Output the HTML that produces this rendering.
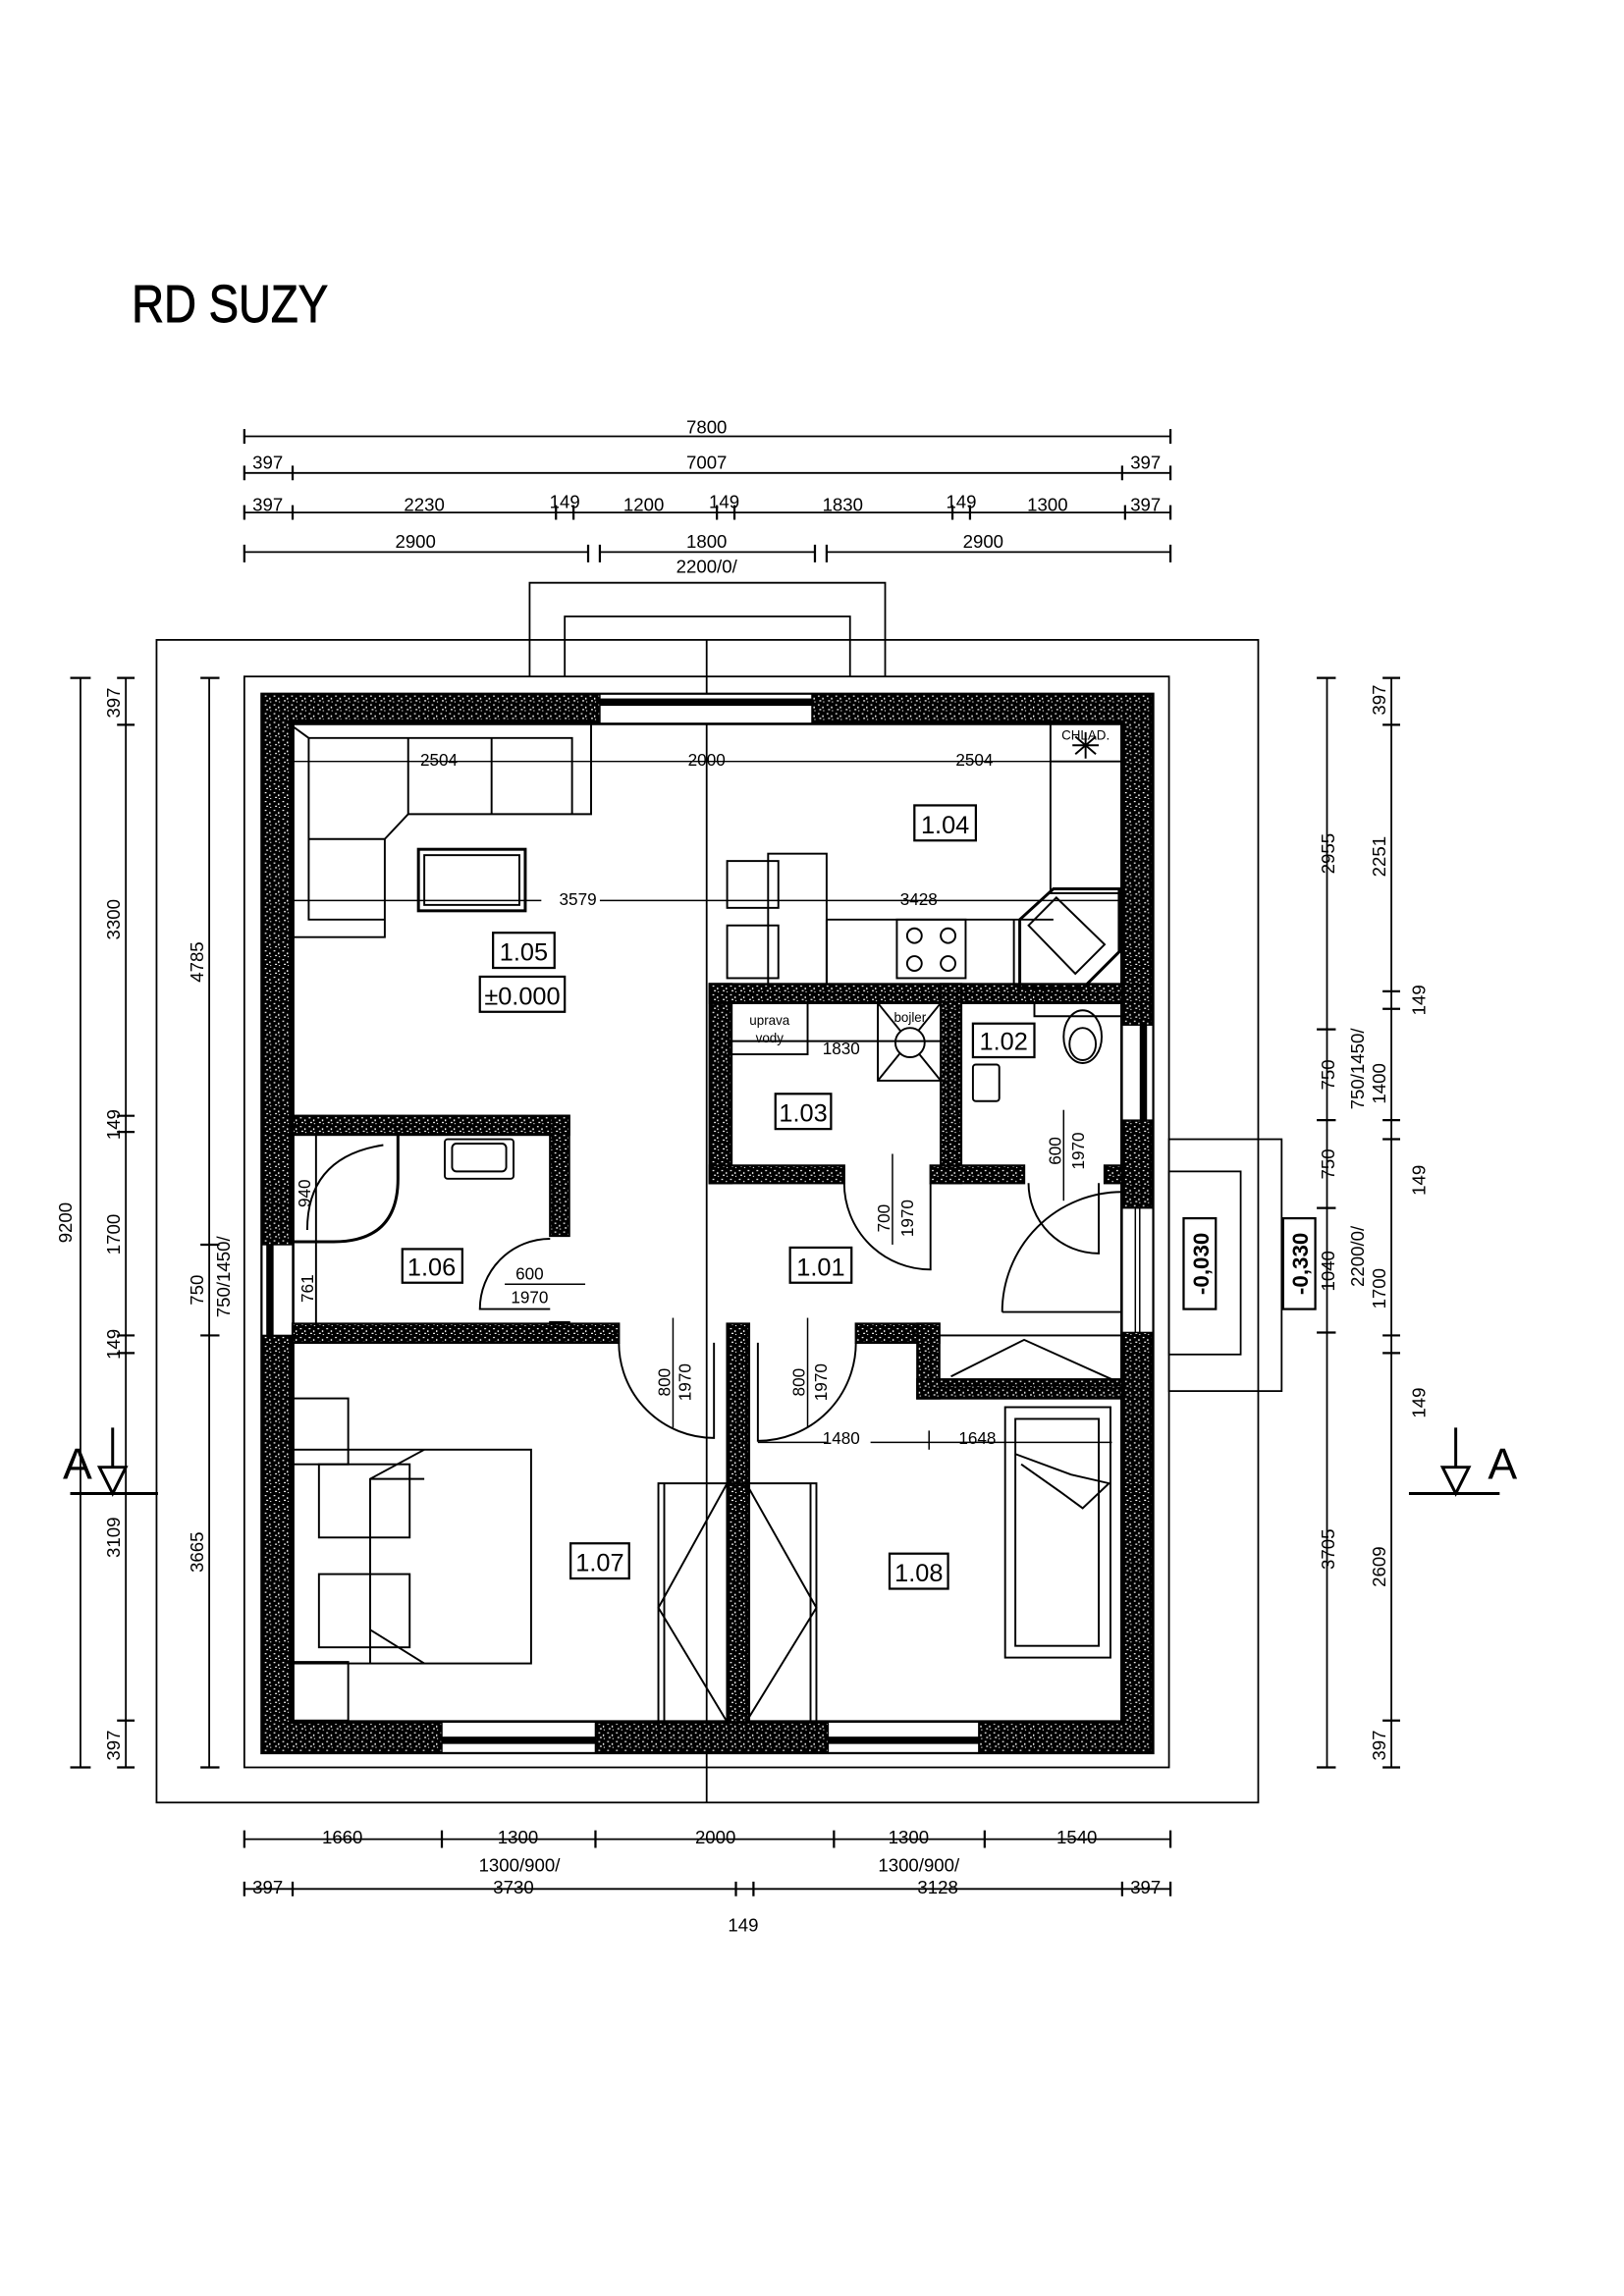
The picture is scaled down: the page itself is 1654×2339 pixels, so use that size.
<!DOCTYPE html>
<html><head><meta charset="utf-8"><style>
html,body{margin:0;padding:0;background:#fff}
svg{display:block}
text{font-family:"Liberation Sans",sans-serif;fill:#000}
</style></head><body>
<svg width="1654" height="2339" viewBox="0 0 1110 1568" preserveAspectRatio="none" xmlns="http://www.w3.org/2000/svg">
<defs>
<pattern id="h" width="6" height="6" patternUnits="userSpaceOnUse">
<rect width="6" height="6" fill="#000"/>
<rect x="1" y="1" width="1.2" height="0.8" fill="#fff"/>
<rect x="4" y="2.5" width="0.9" height="1.2" fill="#fff"/>
<rect x="2" y="4.2" width="1.3" height="0.8" fill="#fff"/>
<rect x="4.6" y="5" width="0.8" height="0.7" fill="#fff"/>
</pattern>
</defs>
<rect width="1110" height="1568" fill="#fff"/>
<text x="90" y="220" font-size="36" stroke="#000" stroke-width="0.6" transform="translate(90 220) scale(0.85 1) translate(-90 -220)">RD SUZY</text>

<g stroke="#000" fill="none" stroke-width="1.2">
<rect x="107" y="437" width="753" height="794"/>
<rect x="167" y="462" width="632" height="745"/>
<path d="M362 462V398H605V462M386 462V421H581V462"/>
<line x1="483" y1="437" x2="483" y2="1231"/>
<rect x="799" y="778" width="77" height="172"/>
<rect x="799" y="800" width="49" height="125"/>
</g>

<path fill-rule="evenodd" fill="url(#h)" stroke="#000" stroke-width="2" d="M179 474H788V1197H179Z M200 494H767V1176H200Z"/>
<rect x="200" y="494" width="567" height="682" fill="none" stroke="#000" stroke-width="2.5"/>
<g fill="#fff" stroke="#000" stroke-width="1">
<rect x="410" y="474" width="145" height="20"/>
<rect x="302" y="1176" width="105" height="21"/>
<rect x="566" y="1176" width="103" height="21"/>
<rect x="179" y="850" width="21" height="62"/>
<rect x="767" y="700" width="21" height="65"/>
<rect x="767" y="825" width="21" height="85"/>
</g>
<g fill="#000">
<rect x="410" y="477" width="145" height="5"/>
<rect x="302" y="1186" width="105" height="5"/>
<rect x="566" y="1186" width="103" height="5"/>
<rect x="182" y="850" width="5" height="62"/>
<rect x="779" y="700" width="5" height="65"/>
</g>
<g stroke="#000" stroke-width="1"><line x1="776" y1="825" x2="776" y2="910"/><line x1="779" y1="825" x2="779" y2="910"/></g>

<g fill="url(#h)" stroke="#000" stroke-width="1.5">
<rect x="200" y="762" width="189" height="13"/>
<rect x="376" y="762" width="13" height="82"/>
<rect x="376" y="903" width="13" height="6"/>
<rect x="200" y="904" width="223" height="13"/>
<rect x="497" y="904" width="15" height="272"/>
<rect x="585" y="904" width="57" height="13"/>
<rect x="627" y="904" width="15" height="51"/>
<rect x="627" y="942" width="140" height="13"/>
<rect x="485" y="672" width="15" height="136"/>
<rect x="485" y="672" width="282" height="13"/>
<rect x="643" y="672" width="14" height="136"/>
<rect x="485" y="796" width="92" height="12"/>
<rect x="636" y="796" width="64" height="12"/>
<rect x="755" y="796" width="12" height="12"/>
</g>

<g stroke="#000" fill="none" stroke-width="1.3">
<path d="M199 492H404V556H279L263 573V640H199"/>
<path d="M211 504H391V556M211 504V628H263M279 504V556M336 504V556M211 573H263"/>
<line x1="200" y1="496" x2="211" y2="504"/>
<rect x="286" y="580" width="73" height="42" stroke-width="2"/>
<rect x="290" y="584" width="65" height="34"/>
<rect x="718" y="494" width="49" height="116"/>
<line x1="718" y1="520" x2="767" y2="520"/>
<path d="M565 628H720M565 628V672M693 628V672"/>
<rect x="613" y="628" width="47" height="40"/>
<circle cx="625" cy="639" r="5"/><circle cx="648" cy="639" r="5"/><circle cx="625" cy="658" r="5"/><circle cx="648" cy="658" r="5"/>
<path d="M697 628L720 607H765V650L740 675H697Z" stroke-width="2"/>
<path d="M703 632L722 613L755 645L735 665Z"/>
<rect x="525" y="583" width="40" height="89"/>
<rect x="497" y="588" width="35" height="32"/><rect x="497" y="632" width="35" height="36"/>
<path d="M733 509H751M742 500V518M735 503L749 515M749 503L735 515"/>
<rect x="500" y="685" width="52" height="35"/>
<rect x="600" y="685" width="43" height="53"/>
<path d="M600 685L643 738M643 685L600 738"/>
<circle cx="622" cy="712" r="10" fill="#fff"/>
<line x1="500" y1="711" x2="643" y2="711"/>
<rect x="665" y="727" width="18" height="25" rx="2"/>
<path d="M707 685V694H767"/>
<ellipse cx="740" cy="708" rx="13" ry="18"/><ellipse cx="740" cy="713" rx="9" ry="11"/>
<path d="M200 775V848H228Q272 848 272 805V775" stroke-width="2"/>
<path d="M210 840Q210 790 262 782"/>
<rect x="304" y="778" width="47" height="27" rx="2"/>
<rect x="309" y="781" width="37" height="19" rx="3"/>
<line x1="216" y1="775" x2="216" y2="904"/>
<rect x="200" y="955" width="38" height="45"/>
<rect x="200" y="1135" width="38" height="40"/>
<rect x="200" y="990" width="163" height="146"/>
<rect x="218" y="1000" width="62" height="50"/>
<rect x="218" y="1075" width="62" height="50"/>
<path d="M253 1136V1010L290 990M253 1010H290M253 1113L290 1136"/>
<path d="M450 1176V1013H558V1176M454 1013V1176M554 1013V1176"/>
<path d="M497 1013L450 1098L497 1176M510 1013L558 1098L510 1176"/>
<rect x="687" y="961" width="72" height="171"/>
<rect x="694" y="969" width="57" height="155"/>
<path d="M694 993L732 1007L758 1013L740 1030L725 1019L698 1000"/>
<rect x="642" y="912" width="125" height="34"/>
<path d="M650 940L700 915L760 942"/>
<path d="M577 808A59 59 0 0 0 636 867V808"/>
<path d="M703 808A48 48 0 0 0 751 856V808"/>
<path d="M685 896A82 82 0 0 1 767 814M685 896H767"/>
<path d="M376 846A48 48 0 0 0 328 894H376"/>
<path d="M423 917A65 65 0 0 0 488 982V917"/>
<path d="M585 917A67 67 0 0 1 518 984V917"/>
<line x1="200" y1="520" x2="767" y2="520" stroke-width="1"/>
<line x1="200" y1="615" x2="370" y2="615" stroke-width="1"/>
<line x1="410" y1="615" x2="767" y2="615" stroke-width="1"/>
<line x1="610" y1="788" x2="610" y2="850" stroke-width="1"/>
<line x1="727" y1="758" x2="727" y2="820" stroke-width="1"/>
<line x1="345" y1="877" x2="400" y2="877" stroke-width="1"/>
<line x1="460" y1="900" x2="460" y2="975" stroke-width="1"/>
<line x1="552" y1="900" x2="552" y2="975" stroke-width="1"/>
<line x1="518" y1="985" x2="565" y2="985" stroke-width="1"/><line x1="595" y1="985" x2="760" y2="985" stroke-width="1"/>
<line x1="635" y1="977" x2="635" y2="990" stroke-width="1"/>
</g>
<g stroke="#000" fill="#fff" stroke-width="1.5">
<rect x="337" y="637" width="42" height="24"/><rect x="328" y="667" width="58" height="24"/>
<rect x="625" y="550" width="42" height="24"/>
<rect x="530" y="747" width="38" height="24"/>
<rect x="665" y="699" width="42" height="23"/>
<rect x="275" y="853" width="41" height="23"/>
<rect x="540" y="852" width="42" height="24"/>
<rect x="390" y="1054" width="40" height="24"/>
<rect x="608" y="1061" width="40" height="24"/>
</g>
<g font-size="17" text-anchor="middle">
<text x="358" y="656">1.05</text><text x="357" y="686">±0.000</text>
<text x="646" y="569">1.04</text><text x="549" y="766">1.03</text>
<text x="686" y="717">1.02</text><text x="295" y="871">1.06</text>
<text x="561" y="871">1.01</text><text x="410" y="1073">1.07</text><text x="628" y="1080">1.08</text>
</g>
<g font-size="11.5" text-anchor="middle">
<text x="300" y="523">2504</text><text x="483" y="523">2000</text><text x="666" y="523">2504</text>
<text x="395" y="618">3579</text><text x="628" y="618">3428</text>
<text x="575" y="720">1830</text>
<text x="575" y="986">1480</text><text x="668" y="986">1648</text>
<text x="362" y="874">600</text><text x="362" y="890">1970</text>
<text x="526" y="700" font-size="9">uprava</text><text x="526" y="712" font-size="9">vody</text>
<text x="622" y="698" font-size="9">bojler</text>
<text x="742" y="505" font-size="9">CHLAD.</text>
<text transform="translate(608 832) rotate(-90)">700</text><text transform="translate(624 832) rotate(-90)">1970</text>
<text transform="translate(725 786) rotate(-90)">600</text><text transform="translate(741 786) rotate(-90)">1970</text>
<text transform="translate(458 944) rotate(-90)">800</text><text transform="translate(472 944) rotate(-90)">1970</text>
<text transform="translate(550 944) rotate(-90)">800</text><text transform="translate(565 944) rotate(-90)">1970</text>
<text transform="translate(214 880) rotate(-90)">761</text>
<text transform="translate(212 815) rotate(-90)">940</text>
</g>
<g stroke="#000" fill="#fff" stroke-width="1.5"><rect x="809" y="832" width="22" height="62"/><rect x="877" y="832" width="22" height="62"/></g>
<g font-size="15" font-weight="bold" text-anchor="middle">
<text transform="translate(826 863) rotate(-90)">-0,030</text><text transform="translate(894 863) rotate(-90)">-0,330</text></g>

<g stroke="#000" stroke-width="1.2" fill="none">
<line x1="167" y1="298" x2="800" y2="298"/>
<line x1="167" y1="323" x2="800" y2="323"/>
<line x1="167" y1="350" x2="800" y2="350"/>
<path d="M167 377H402M410 377H557M565 377H800"/>
<line x1="167" y1="1256" x2="800" y2="1256"/>
<line x1="167" y1="1290" x2="800" y2="1290"/>
<line x1="55" y1="463" x2="55" y2="1207"/>
<line x1="86" y1="463" x2="86" y2="1207"/>
<line x1="143" y1="463" x2="143" y2="1207"/>
<line x1="907" y1="463" x2="907" y2="1207"/>
<line x1="951" y1="463" x2="951" y2="1207"/>
</g>
<g stroke="#000" stroke-width="1.5">
<path d="M167 293V303M800 293V303 M167 318V328M200 318V328M767 318V328M800 318V328
M167 345V355M200 345V355M380 345V355M392 345V355M490 345V355M502 345V355M651 345V355M663 345V355M769 345V355M800 345V355
M167 372V384M402 372V384M410 372V384M557 372V384M565 372V384M800 372V384
M167 1250V1262M302 1250V1262M407 1250V1262M570 1250V1262M673 1250V1262M800 1250V1262
M167 1285V1295M200 1285V1295M503 1285V1295M515 1285V1295M767 1285V1295M800 1285V1295"/>
<path d="M48 463H62M48 1207H62 M80 463H92M80 495H92M80 762H92M80 773H92M80 912H92M80 924H92M80 1175H92M80 1207H92
M137 463H150M137 850H150M137 912H150M137 1207H150
M900 463H913M900 703H913M900 765H913M900 825H913M900 910H913M900 1207H913
M945 463H957M945 495H957M945 677H957M945 689H957M945 765H957M945 778H957M945 912H957M945 924H957M945 1175H957M945 1207H957"/>
<path d="M48 1020H108M963 1020H1025M77 975V1010M995 975V1010" stroke-width="2"/>
</g>
<path d="M68 1002H86L77 1020Z M986 1002H1004L995 1020Z" fill="#fff" stroke="#000" stroke-width="2"/>
<g font-size="30" text-anchor="middle"><text x="53" y="1010">A</text><text x="1027" y="1010">A</text></g>

<g font-size="12.5" text-anchor="middle">
<text x="483" y="296">7800</text>
<text x="183" y="320">397</text><text x="483" y="320">7007</text><text x="783" y="320">397</text>
<text x="183" y="349">397</text><text x="290" y="349">2230</text><text x="386" y="347">149</text><text x="440" y="349">1200</text><text x="495" y="347">149</text><text x="576" y="349">1830</text><text x="657" y="347">149</text><text x="716" y="349">1300</text><text x="783" y="349">397</text>
<text x="284" y="374">2900</text><text x="483" y="374">1800</text><text x="672" y="374">2900</text>
<text x="483" y="391">2200/0/</text>
<text x="234" y="1259">1660</text><text x="354" y="1259">1300</text><text x="489" y="1259">2000</text><text x="621" y="1259">1300</text><text x="736" y="1259">1540</text>
<text x="355" y="1278">1300/900/</text><text x="351" y="1293">3730</text>
<text x="628" y="1278">1300/900/</text><text x="641" y="1293">3128</text>
<text x="183" y="1293">397</text><text x="783" y="1293">397</text><text x="508" y="1319">149</text>
<text transform="translate(49 835) rotate(-90)">9200</text>
<text transform="translate(82 480) rotate(-90)">397</text><text transform="translate(82 628) rotate(-90)">3300</text>
<text transform="translate(82 768) rotate(-90)">149</text><text transform="translate(82 843) rotate(-90)">1700</text>
<text transform="translate(82 918) rotate(-90)">149</text><text transform="translate(82 1050) rotate(-90)">3109</text>
<text transform="translate(82 1192) rotate(-90)">397</text>
<text transform="translate(139 657) rotate(-90)">4785</text><text transform="translate(139 881) rotate(-90)">750</text>
<text transform="translate(139 1060) rotate(-90)">3665</text><text transform="translate(157 872) rotate(-90)">750/1450/</text>
<text transform="translate(912 583) rotate(-90)">2955</text><text transform="translate(912 734) rotate(-90)">750</text>
<text transform="translate(912 795) rotate(-90)">750</text><text transform="translate(912 868) rotate(-90)">1040</text>
<text transform="translate(912 1058) rotate(-90)">3705</text>
<text transform="translate(932 730) rotate(-90)">750/1450/</text><text transform="translate(932 858) rotate(-90)">2200/0/</text>
<text transform="translate(947 478) rotate(-90)">397</text><text transform="translate(947 585) rotate(-90)">2251</text>
<text transform="translate(974 683) rotate(-90)">149</text><text transform="translate(947 740) rotate(-90)">1400</text>
<text transform="translate(974 806) rotate(-90)">149</text><text transform="translate(947 880) rotate(-90)">1700</text>
<text transform="translate(974 958) rotate(-90)">149</text><text transform="translate(947 1070) rotate(-90)">2609</text>
<text transform="translate(947 1192) rotate(-90)">397</text>
</g>
</svg>
</body></html>
